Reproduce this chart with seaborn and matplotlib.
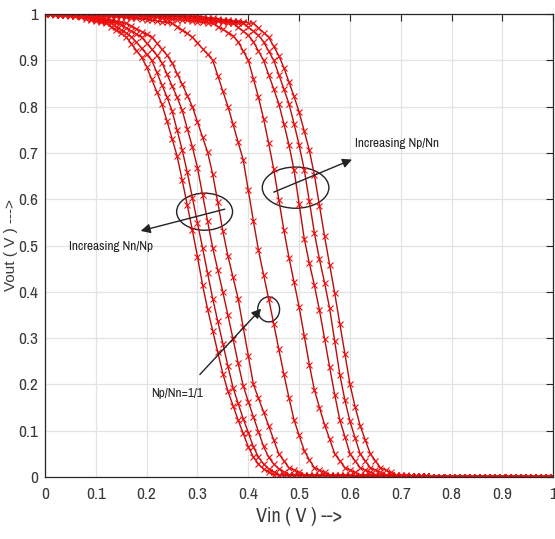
import numpy as np
import pandas as pd
import matplotlib
matplotlib.use("Agg")
import matplotlib.pyplot as plt
from matplotlib import font_manager as fm
from matplotlib.font_manager import FontProperties
from matplotlib.patches import Ellipse
import seaborn as sns

# Input sweep (V), shared by every transfer curve
vin = np.round(np.arange(0, 101) / 100, 2)

# Output voltage (V) of each inverter sizing, sampled on the sweep above
vout_a1 = [1.000, 0.999, 0.998, 0.998, 0.997, 0.996, 0.995, 0.993, 0.990, 0.988,
           0.985, 0.983, 0.980, 0.973, 0.965, 0.958, 0.950, 0.936, 0.921, 0.907,
           0.886, 0.859, 0.832, 0.805, 0.769, 0.731, 0.693, 0.641, 0.587, 0.533,
           0.476, 0.415, 0.362, 0.316, 0.269, 0.223, 0.185, 0.154, 0.123, 0.094,
           0.065, 0.043, 0.028, 0.017, 0.011, 0.005,
           0.005, 0.004, 0.004, 0.004, 0.004,
           0.003, 0.003, 0.003, 0.003, 0.003, 0.003, 0.003, 0.003, 0.003, 0.003,
           0.002, 0.002, 0.002, 0.002, 0.002, 0.002, 0.002, 0.002, 0.002, 0.002,
           0.002, 0.002, 0.002, 0.002, 0.002,
           0.001, 0.001, 0.001, 0.001, 0.001, 0.001, 0.001, 0.001, 0.001, 0.001,
           0.001, 0.001, 0.001, 0.001, 0.001, 0.001, 0.001, 0.001, 0.001, 0.001,
           0.001, 0.001, 0.001, 0.001, 0.001]

vout_a2 = [1.000, 0.999, 0.999, 0.998, 0.997, 0.997, 0.996, 0.995, 0.993, 0.990,
           0.988, 0.985, 0.983, 0.980, 0.973, 0.966, 0.959, 0.951, 0.939, 0.926,
           0.913, 0.900, 0.874, 0.847, 0.821, 0.791, 0.749, 0.706, 0.658, 0.603,
           0.549, 0.495, 0.440, 0.385, 0.336, 0.288, 0.239, 0.193, 0.159, 0.126,
           0.096, 0.065, 0.043, 0.028, 0.018, 0.011, 0.005,
           0.005, 0.004, 0.004, 0.004,
           0.003, 0.003, 0.003, 0.003, 0.003, 0.003, 0.003, 0.003, 0.003, 0.003,
           0.002, 0.002, 0.002, 0.002, 0.002, 0.002, 0.002, 0.002, 0.002, 0.002,
           0.002, 0.002, 0.002, 0.002, 0.002,
           0.001, 0.001, 0.001, 0.001, 0.001, 0.001, 0.001, 0.001, 0.001, 0.001,
           0.001, 0.001, 0.001, 0.001, 0.001, 0.001, 0.001, 0.001, 0.001, 0.001,
           0.001, 0.001, 0.001, 0.001, 0.001]

vout_a3 = [1.000, 0.999, 0.999, 0.998, 0.998, 0.997, 0.996, 0.996, 0.995, 0.993,
           0.990, 0.988, 0.986, 0.983, 0.981, 0.977, 0.970, 0.963, 0.957, 0.950,
           0.937, 0.924, 0.911, 0.895, 0.870, 0.845, 0.820, 0.792, 0.752, 0.713,
           0.668, 0.610, 0.552, 0.495, 0.447, 0.399, 0.349, 0.298, 0.246, 0.197,
           0.163, 0.130, 0.098, 0.066, 0.043, 0.028, 0.018, 0.011, 0.005,
           0.004, 0.004,
           0.003, 0.003, 0.003, 0.003, 0.003, 0.003, 0.003, 0.003, 0.003, 0.003,
           0.002, 0.002, 0.002, 0.002, 0.002, 0.002, 0.002, 0.002, 0.002, 0.002,
           0.002, 0.002, 0.002, 0.002, 0.002,
           0.001, 0.001, 0.001, 0.001, 0.001, 0.001, 0.001, 0.001, 0.001, 0.001,
           0.001, 0.001, 0.001, 0.001, 0.001, 0.001, 0.001, 0.001, 0.001, 0.001,
           0.001, 0.001, 0.001, 0.001, 0.001]

vout_a4 = [1.000, 0.999, 0.999, 0.998, 0.998, 0.997, 0.997, 0.996, 0.996, 0.995,
           0.993, 0.991, 0.989, 0.987, 0.984, 0.982, 0.980, 0.974, 0.968, 0.962,
           0.956, 0.950, 0.937, 0.924, 0.911, 0.895, 0.871, 0.848, 0.824, 0.800,
           0.767, 0.734, 0.701, 0.654, 0.593, 0.531, 0.477, 0.431, 0.385, 0.323,
           0.262, 0.200, 0.170, 0.141, 0.111, 0.080, 0.050, 0.035, 0.020, 0.015,
           0.010, 0.005,
           0.004, 0.004, 0.004, 0.004,
           0.003, 0.003, 0.003, 0.003, 0.003, 0.003, 0.003, 0.003, 0.003, 0.003,
           0.002, 0.002, 0.002, 0.002, 0.002, 0.002, 0.002, 0.002, 0.002, 0.002,
           0.001, 0.001, 0.001, 0.001, 0.001, 0.001, 0.001, 0.001, 0.001, 0.001,
           0.001, 0.001, 0.001, 0.001, 0.001, 0.001, 0.001, 0.001, 0.001, 0.001,
           0.001, 0.001, 0.001, 0.001, 0.001]

# Np/Nn = 1/1
vout_m = [1.000, 1.000, 0.999, 0.999, 0.999, 0.998, 0.998, 0.998, 0.997, 0.997,
          0.997, 0.996, 0.996, 0.996, 0.995, 0.995, 0.994, 0.992, 0.991, 0.989,
          0.988, 0.986, 0.985, 0.983, 0.982, 0.980, 0.973, 0.965, 0.958, 0.950,
          0.938, 0.925, 0.913, 0.900, 0.867, 0.833, 0.800, 0.762, 0.723, 0.685,
          0.619, 0.553, 0.490, 0.437, 0.385, 0.331, 0.276, 0.222, 0.171, 0.123,
          0.090, 0.057, 0.037, 0.020, 0.015, 0.010, 0.005,
          0.004, 0.004, 0.004, 0.004,
          0.003, 0.003, 0.003, 0.003, 0.003, 0.003, 0.003, 0.003,
          0.002, 0.002, 0.002, 0.002, 0.002, 0.002, 0.002,
          0.001, 0.001, 0.001, 0.001, 0.001, 0.001, 0.001, 0.001, 0.001, 0.001,
          0.001, 0.001, 0.001, 0.001, 0.001, 0.001, 0.001, 0.001, 0.001, 0.001,
          0.001, 0.001, 0.001, 0.001, 0.001]

vout_b1 = [1.000, 1.000, 0.999, 0.999, 0.999, 0.999, 0.998, 0.998, 0.998, 0.998,
           0.997, 0.997, 0.997, 0.997, 0.996, 0.996, 0.996, 0.996, 0.995, 0.995,
           0.995, 0.994, 0.993, 0.992, 0.990, 0.989, 0.988, 0.987, 0.986, 0.985,
           0.983, 0.982, 0.981, 0.980, 0.973, 0.967, 0.960, 0.953, 0.940, 0.920,
           0.900, 0.860, 0.820, 0.774, 0.721, 0.665, 0.599, 0.533, 0.474, 0.421,
           0.367, 0.305, 0.243, 0.188, 0.150, 0.113, 0.082, 0.050, 0.035, 0.020,
           0.015, 0.010, 0.005,
           0.004, 0.004, 0.004, 0.004,
           0.003, 0.003, 0.003, 0.003, 0.003,
           0.002, 0.002, 0.002, 0.002,
           0.001, 0.001, 0.001, 0.001, 0.001, 0.001, 0.001, 0.001, 0.001, 0.001,
           0.001, 0.001, 0.001, 0.001, 0.001, 0.001, 0.001, 0.001, 0.001, 0.001,
           0.001, 0.001, 0.001, 0.001, 0.001]

vout_b2 = [1.000, 1.000, 1.000, 0.999, 0.999, 0.999, 0.999, 0.998, 0.998, 0.998,
           0.998, 0.997, 0.997, 0.997, 0.997, 0.997, 0.996, 0.996, 0.996, 0.996,
           0.996, 0.995, 0.995, 0.995, 0.995, 0.995, 0.994, 0.993, 0.991, 0.990,
           0.989, 0.988, 0.986, 0.985, 0.984, 0.983, 0.981, 0.980, 0.971, 0.963,
           0.954, 0.940, 0.920, 0.900, 0.869, 0.838, 0.806, 0.763, 0.717, 0.663,
           0.589, 0.515, 0.462, 0.414, 0.360, 0.299, 0.237, 0.178, 0.123, 0.087,
           0.050, 0.035, 0.020, 0.015, 0.010, 0.005,
           0.004, 0.004, 0.004,
           0.003, 0.003, 0.003, 0.003,
           0.002, 0.002, 0.002,
           0.001, 0.001, 0.001, 0.001, 0.001, 0.001, 0.001, 0.001, 0.001, 0.001,
           0.001, 0.001, 0.001, 0.001, 0.001, 0.001, 0.001, 0.001, 0.001, 0.001,
           0.001, 0.001, 0.001, 0.001, 0.001]

vout_b3 = [1.000, 1.000, 1.000, 1.000, 0.999, 0.999, 0.999, 0.999, 0.999, 0.998,
           0.998, 0.998, 0.998, 0.998, 0.997, 0.997, 0.997, 0.997, 0.997, 0.996,
           0.996, 0.996, 0.996, 0.996, 0.995, 0.995, 0.995, 0.995, 0.994, 0.993,
           0.991, 0.990, 0.989, 0.988, 0.986, 0.985, 0.984, 0.983, 0.981, 0.980,
           0.971, 0.963, 0.954, 0.940, 0.920, 0.900, 0.869, 0.838, 0.806, 0.763,
           0.717, 0.664, 0.596, 0.527, 0.470, 0.420, 0.364, 0.293, 0.221, 0.166,
           0.120, 0.085, 0.050, 0.035, 0.020, 0.015, 0.010, 0.005,
           0.004, 0.004,
           0.003, 0.003, 0.003,
           0.002, 0.002, 0.002,
           0.001, 0.001, 0.001, 0.001, 0.001, 0.001, 0.001, 0.001, 0.001, 0.001,
           0.001, 0.001, 0.001, 0.001, 0.001, 0.001, 0.001, 0.001, 0.001, 0.001,
           0.001, 0.001, 0.001, 0.001, 0.001]

vout_b4 = [1.000, 1.000, 1.000, 1.000, 1.000, 0.999, 0.999, 0.999, 0.999, 0.999,
           0.998, 0.998, 0.998, 0.998, 0.998, 0.997, 0.997, 0.997, 0.997, 0.997,
           0.996, 0.996, 0.996, 0.996, 0.996, 0.996, 0.995, 0.995, 0.995, 0.995,
           0.995, 0.994, 0.992, 0.991, 0.990, 0.988, 0.987, 0.985, 0.984, 0.983,
           0.981, 0.980, 0.970, 0.960, 0.950, 0.930, 0.910, 0.884, 0.853, 0.822,
           0.788, 0.747, 0.706, 0.652, 0.586, 0.520, 0.458, 0.397, 0.331, 0.266,
           0.200, 0.152, 0.111, 0.080, 0.050, 0.035, 0.020, 0.015, 0.010, 0.005,
           0.004, 0.004,
           0.003, 0.003,
           0.002, 0.002,
           0.001, 0.001, 0.001, 0.001, 0.001, 0.001, 0.001, 0.001, 0.001, 0.001,
           0.001, 0.001, 0.001, 0.001, 0.001, 0.001, 0.001, 0.001, 0.001, 0.001,
           0.001, 0.001, 0.001, 0.001, 0.001]

curves = {
    "a1": vout_a1, "a2": vout_a2, "a3": vout_a3, "a4": vout_a4,
    "m": vout_m,
    "b1": vout_b1, "b2": vout_b2, "b3": vout_b3, "b4": vout_b4,
}
for name, vals in curves.items():
    assert len(vals) == len(vin), (name, len(vals))

df = pd.concat(
    [pd.DataFrame({"Vin": vin, "Vout": vals, "curve": name})
     for name, vals in curves.items()],
    ignore_index=True,
)

ticks = [0, 0.1, 0.2, 0.3, 0.4, 0.5, 0.6, 0.7, 0.8, 0.9, 1]
tick_labels = ["0", "0.1", "0.2", "0.3", "0.4", "0.5", "0.6", "0.7", "0.8", "0.9", "1"]


def find_narrow_face():
    """Return the file of a narrow/condensed sans face, if one is installed."""
    entries = fm.fontManager.ttflist

    def regular(f):
        w = f.weight
        return f.style == "normal" and (w in (400, "normal", "regular", "book"))

    for f in entries:
        if "Narrow" in f.name and regular(f):
            return f.fname
    for f in entries:
        if str(f.stretch) in ("condensed", "semi-condensed", "extra-condensed") and regular(f):
            return f.fname
    for f in entries:
        if "Condensed" in f.name and regular(f):
            return f.fname
    return None


sns.set_theme(style="whitegrid")
plt.rcParams["font.family"] = ["Liberation Sans", "DejaVu Sans"]

narrow_file = find_narrow_face()


def fprops(size):
    if narrow_file:
        return FontProperties(fname=narrow_file, size=size)
    return FontProperties(family=["Liberation Sans", "DejaVu Sans"], size=size * 0.88)


fig = plt.figure(figsize=(5.55, 5.39), dpi=100)
ax = fig.add_axes([0.081, 0.115, 0.916, 0.859])

sns.lineplot(
    data=df, x="Vin", y="Vout", units="curve", estimator=None,
    color="#bb0a0a", linewidth=1.0, marker="x", markersize=5,
    markeredgecolor="#f01010", markeredgewidth=0.8, ax=ax, legend=False,
)

ax.set_xlim(0, 1)
ax.set_ylim(0, 1)
ax.set_xticks(ticks)
ax.set_xticklabels(tick_labels)
ax.set_yticks(ticks)
ax.set_yticklabels(tick_labels)
ax.grid(True, color="#e3e3e3", linewidth=0.9)
ax.set_axisbelow(True)
for s in ax.spines.values():
    s.set_visible(True)
    s.set_color("#262626")
    s.set_linewidth(0.9)
ax.tick_params(axis="x", direction="in", length=5, width=0.8, color="#262626",
               top=True, labelcolor="#3a3a3a", pad=7)
ax.tick_params(axis="y", direction="in", length=5, width=0.8, color="#262626",
               right=True, labelcolor="#3a3a3a", pad=5)
for lbl in ax.get_xticklabels() + ax.get_yticklabels():
    lbl.set_fontproperties(fprops(12.5))

ax.set_xlabel("Vin ( V ) -->", fontproperties=fprops(14.5), color="#3a3a3a")
ax.xaxis.set_label_coords(0.5, -0.065)
ax.set_ylabel("Vout ( V ) --->", fontsize=11, color="#3a3a3a")
ax.yaxis.set_label_coords(-0.054, 0.5)

# Annotations: ellipses grouping the curves and arrows showing the sizing trend
ink = "#222222"
ax.add_patch(Ellipse((0.314, 0.573), 0.110, 0.080, fill=False, ec=ink, lw=1.0))
ax.add_patch(Ellipse((0.493, 0.625), 0.131, 0.089, fill=False, ec=ink, lw=1.0))
ax.add_patch(Ellipse((0.440, 0.362), 0.043, 0.054, fill=False, ec=ink, lw=1.0))

arrow = dict(arrowstyle="-|>", color=ink, lw=1.0, mutation_scale=14)
ax.annotate("", xy=(0.183, 0.530), xytext=(0.359, 0.580), arrowprops=arrow)
ax.annotate("", xy=(0.609, 0.688), xytext=(0.445, 0.613), arrowprops=arrow)
ax.annotate("", xy=(0.429, 0.368), xytext=(0.301, 0.217), arrowprops=arrow)

ax.text(0.130, 0.497, "Increasing Nn/Np", fontproperties=fprops(9.5), color=ink,
        ha="center", va="center")
ax.text(0.609, 0.720, "Increasing Np/Nn", fontproperties=fprops(9.5), color=ink,
        ha="left", va="center")
ax.text(0.259, 0.181, "Np/Nn=1/1", fontproperties=fprops(9.5), color=ink,
        ha="center", va="center")

fig.savefig("out.png", dpi=100, facecolor="white")
